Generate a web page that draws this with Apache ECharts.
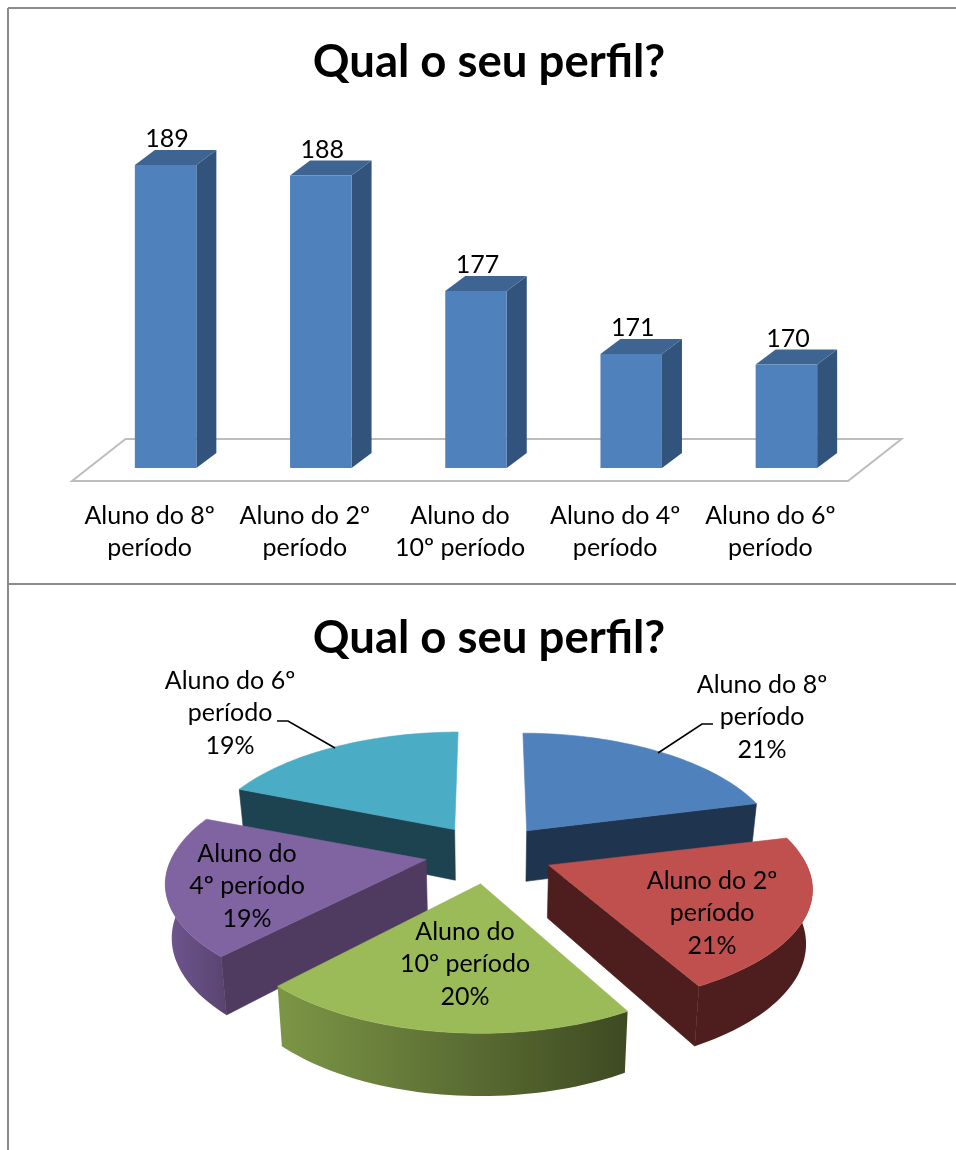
<!DOCTYPE html>
<html><head><meta charset="utf-8">
<style>html,body{margin:0;padding:0;background:#fff}#c{width:956px;height:1150px}</style>
<script src="https://cdn.jsdelivr.net/npm/echarts@6/dist/echarts.min.js"></script>
</head><body><div id="c"></div>
<script>
const titleText = 'Qual o seu perfil?';
const barCategories = ['Aluno do 8º\nperíodo','Aluno do 2º\nperíodo','Aluno do\n10º período','Aluno do 4º\nperíodo','Aluno do 6º\nperíodo'];
const barValues = [189,188,177,171,170];
const pieCategories = ['Aluno do 8º\nperíodo','Aluno do 2º\nperíodo','Aluno do\n10º período','Aluno do\n4º período','Aluno do 6º\nperíodo'];
const pieValues = [189,188,177,171,170];

const FONT = 'Lato, Carlito, "Open Sans", sans-serif';
const LABEL_SIZE = 25;
const topColors  = ['#4F81BD','#C0504D','#9BBB59','#8064A2','#4BACC6'];
const wallColors = ['#1F344F','#4D1E1D','#3E4A22','#4F3B60','#1E4350'];
const arcLeft    = ['#1F344F','#4D1E1D','#7C9646','#6F5690','#1E4350'];
const arcRight   = ['#1F344F','#4D1E1D','#3E4A22','#594470','#1E4350'];
const drawRank   = [1,3,4,2,0];
const labelCenters = [[762,717],[712,913],[465,964],[247,886],[230,713]];
const sliceScaleX = [0.976,1.012,0.99,1.0,0.98];
const sliceScaleFrontY = [1,0.95,1,0.95,1];

// perspective pie projection
const PIE = {cx:489, cy:853, rx:255, ry:118, p:0.21, explode:0.25, depth:52, depthGrow:0.06, shrink:0.98, backPull:0.1};
const proj = (th, r) => {
  const u = Math.sin(th)*r, v = -Math.cos(th)*r, w = 1 - PIE.p*v;
  return [PIE.rx*u/w, PIE.ry*v/w];
};
const total = pieValues.reduce((a,b)=>a+b,0);
const startAngles = pieValues.map((_,i)=>pieValues.slice(0,i).reduce((a,b)=>a+b,0)/total*2*Math.PI);

function bottomOf(pt){
  return [PIE.cx + (pt[0]-PIE.cx)*PIE.shrink, pt[1] + PIE.depth + PIE.depthGrow*(pt[1]-PIE.cy)];
}

function renderPieSlice(params, api){
  const i = params.dataIndex, val = api.value(0);
  const a0 = startAngles[i], a1 = a0 + val/total*2*Math.PI, mid = (a0+a1)/2;
  const off = proj(mid, PIE.explode);
  const apex = [PIE.cx+off[0], PIE.cy+off[1]];
  const arc = [], frontArc = [];
  const N = 48;
  for(let k=0;k<=N;k++){
    const t = a0+(a1-a0)*k/N, q = proj(t,1);
    const back = Math.max(Math.cos(t),0);
    const pull = off[0]*PIE.backPull*back*back*back;
    const sy = q[1] > 0 ? sliceScaleFrontY[i] : 1;
    const pt = [apex[0]+q[0]*sliceScaleX[i]-pull, apex[1]+q[1]*sy];
    arc.push(pt);
    if(Math.cos(t) < 0.1) frontArc.push(pt);
  }
  const rank = drawRank[i]*10;
  const poly = (points, fill, z) => ({type:'polygon', shape:{points}, style:{fill, stroke:fill, lineWidth:0.6}, z2:rank+z, silent:true});
  const kids = [];
  if(frontArc.length > 1){
    const arcWall = frontArc.concat(frontArc.slice().reverse().map(bottomOf));
    kids.push({type:'polygon', shape:{points:arcWall}, silent:true, z2:rank+1,
      style:{fill:{type:'linear',x:0,y:0,x2:1,y2:0,colorStops:[{offset:0,color:arcLeft[i]},{offset:1,color:arcRight[i]}]}}});
  }
  // only the cut faces that turn toward the viewer are drawn
  if(Math.sin(a0) < -1e-6) kids.push(poly([apex,arc[0],bottomOf(arc[0]),bottomOf(apex)], wallColors[i], 2));
  if(Math.sin(a1) > 1e-6)  kids.push(poly([apex,arc[N],bottomOf(arc[N]),bottomOf(apex)], wallColors[i], 3));
  kids.push(poly([apex].concat(arc), topColors[i], 4));
  const pct = Math.round(val/total*100)+'%';
  kids.push({type:'text', z2:200, silent:true,
    style:{text:pieCategories[i]+'\n'+pct, x:labelCenters[i][0], y:labelCenters[i][1], align:'center', verticalAlign:'middle',
      font:LABEL_SIZE+'px '+FONT, lineHeight:32.5, fill:'#000'}});
  return {type:'group', children:kids};
}

// 3D bar
const BAR = {w:61.5, shift:16, dx:20, dy:15};
function renderBar(params, api){
  const x = api.coord([api.value(0),0])[0] + BAR.shift;
  const top = api.coord([api.value(0),api.value(1)])[1];
  const bottom = api.coord([api.value(0),160])[1] - 1.5;
  const l = x-BAR.w/2, r = x+BAR.w/2, dx=BAR.dx, dy=BAR.dy;
  return {type:'group', children:[
    {type:'polygon', shape:{points:[[r,top],[r+dx,top-dy],[r+dx,bottom-dy],[r,bottom]]}, style:{fill:'#32537B'}},
    {type:'polygon', shape:{points:[[l,top],[l+dx,top-dy],[r+dx,top-dy],[r,top]]}, style:{fill:'#3E6492'}},
    {type:'rect', shape:{x:l,y:top,width:BAR.w,height:bottom-top}, style:{fill:'#4F81BD'}},
    {type:'text', style:{text:String(api.value(1)), x:x+1.5, y:top-26, align:'center', verticalAlign:'middle', font:LABEL_SIZE+'px '+FONT, fill:'#000'}, z2:50}
  ]};
}
function renderFloor(params){
  const g = params.coordSys, L=g.x, R=g.x+g.width, yf=481, yb=439, dx=53.5;
  return {type:'polygon', silent:true, shape:{points:[[L,yf],[L+dx,yb],[R+dx,yb],[R,yf]]}, style:{fill:'none', stroke:'#BDBDBD', lineWidth:2}};
}

const line = (x1,y1,x2,y2,color,w)=>({type:'line', shape:{x1,y1,x2,y2}, style:{stroke:color,lineWidth:w}, silent:true, z:10});
const leader = pts => ({type:'polyline', shape:{points:pts}, style:{stroke:'#000',lineWidth:1.6,fill:'none'}, silent:true, z:10});

const chart = echarts.init(document.getElementById('c'), null, {renderer:'canvas'});
chart.setOption({
  animation:false,
  backgroundColor:'#fff',
  title:[
    {text:titleText, left:484, top:34, textAlign:'center', textStyle:{fontFamily:FONT, fontWeight:'bold', fontSize:45.5, color:'#000'}},
    {text:titleText, left:484, top:610, textAlign:'center', textStyle:{fontFamily:FONT, fontWeight:'bold', fontSize:45.5, color:'#000'}}
  ],
  grid:{left:72, width:776, top:154.5, height:315},
  xAxis:{type:'category', data:barCategories, axisLine:{show:false}, axisTick:{show:false}, splitLine:{show:false},
    axisLabel:{interval:0, margin:30, fontFamily:FONT, fontSize:LABEL_SIZE, lineHeight:32.5, color:'#000'}},
  yAxis:{type:'value', min:160, max:190, show:false, splitLine:{show:false}},
  series:[
    {type:'custom', name:'floor', coordinateSystem:'cartesian2d', renderItem:renderFloor, data:[[0,160]], z:1, silent:true},
    {type:'custom', name:'Qual o seu perfil?', coordinateSystem:'cartesian2d', renderItem:renderBar, encode:{x:0,y:1},
      data:barValues.map((v,i)=>[i,v]), z:2, silent:true},
    {type:'custom', name:'Qual o seu perfil? (pie)', coordinateSystem:'none', renderItem:renderPieSlice,
      data:pieValues.map((v,i)=>({name:pieCategories[i], value:[v]})), z:3, silent:true}
  ],
  graphic:[
    line(8,8,956,8,'#8C8C8C',2),
    line(8,8,8,1150,'#8C8C8C',2),
    line(8,584,956,584,'#8C8C8C',2),
    leader([[277,721],[288,721],[335,748]]),
    leader([[713,724],[702,724],[658,753]])
  ]
});
</script></body></html>
